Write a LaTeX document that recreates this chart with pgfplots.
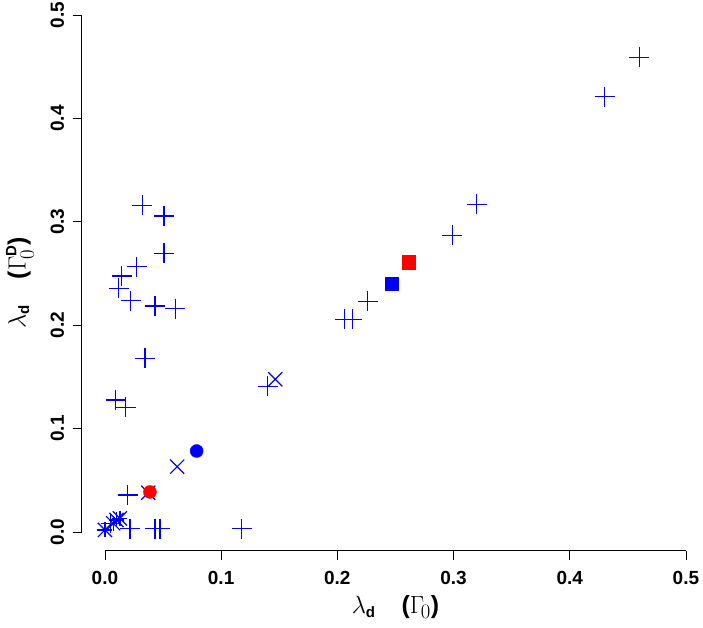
\documentclass[border=0pt]{standalone}
\usepackage{fontspec}
\setmainfont{Liberation Sans}
\usepackage{amsmath}
\usepackage{pgfplots}
\pgfplotsset{compat=1.18}
\newcommand{\sub}[1]{\text{\fontsize{15}{17}\selectfont\bfseries #1}}
\begin{document}
\begin{tikzpicture}
\begin{axis}[
  at={(0,0)}, anchor=south west, scale only axis,
  width=615.86pt, height=540.8pt,
  xmin=-0.02, xmax=0.51, ymin=-0.018, ymax=0.505,
  clip=false,
  axis x line*=bottom, axis y line*=left,
  axis line style={draw=none},
  tick align=outside, major tick length=9pt,
  tick style={black, line width=0.8pt},
  xtick={0,0.1,0.2,0.3,0.4,0.5},
  xticklabels={0.0,0.1,0.2,0.3,0.4,0.5},
  ytick={0,0.1,0.2,0.3,0.4,0.5},
  yticklabels={0.0,0.1,0.2,0.3,0.4,0.5},
  /pgf/number format/assume math mode=true,
  ticklabel style={font=\bfseries\fontsize{19}{22}\selectfont},
  yticklabel style={rotate=90, anchor=south, yshift=5pt},
  xticklabel style={anchor=north, yshift=-8pt},
  xlabel={$\lambda_{\sub{d}}$\hspace{26pt}\textbf{(}$\Gamma_{\!0}$\textbf{)}},
  ylabel={$\lambda_{\sub{d}}$\hspace{26pt}\textbf{(}$\Gamma^{\sub{D}}_{\!0}$\textbf{)}},
  label style={font=\fontsize{24.88}{30}\selectfont},
  xlabel style={at={(axis description cs:0.5094,0)}, anchor=center, yshift=-56.4pt},
  ylabel style={at={(axis description cs:0,0.495)}, anchor=center, yshift=61.7pt},
]
\draw[line width=0.8pt] (axis cs:0,-0.018) -- (axis cs:0.5,-0.018);
\draw[line width=0.8pt] (axis cs:-0.02,0) -- (axis cs:-0.02,0.5);
% plus markers
\addplot[only marks, mark=+, mark size=10pt, blue, mark options={line width=1.2pt}] coordinates {
(0.460,0.459) (0.430,0.421) (0.320,0.317) (0.299,0.287) (0.226,0.223)
(0.2065,0.2057) (0.213,0.2057) (0.140,0.141)
(0.0321,0.316) (0.0508,0.3056) (0.0508,0.2695) (0.0273,0.2566) (0.0144,0.2476)
(0.012,0.2357) (0.0221,0.2237) (0.043,0.2186) (0.0605,0.216) (0.0344,0.168)
(0.0092,0.1277) (0.018,0.1206)
(0.0195,0.0358) (0.0215,0.003) (0.0049,0.0084) (0.043,0.003) (0.0473,0.003)
(0.1176,0.003)
};
% x markers
\addplot[only marks, mark=x, mark size=10pt, blue, mark options={line width=1.2pt}] coordinates {
(0.1466,0.1477) (0.0622,0.0632) (0.0373,0.038)
};
% asterisks (+ and x)
\addplot[only marks, mark=+, mark size=7.5pt, blue, mark options={line width=1.2pt}] coordinates {
(0.0,0.002) (0.010,0.0116) (0.0129,0.0132) (0.0071,0.0084)
};
\addplot[only marks, mark=x, mark size=10pt, blue, mark options={line width=1.2pt}] coordinates {
(0.0,0.002) (0.010,0.0116) (0.0129,0.0132) (0.0071,0.0084)
};
% filled circles
\addplot[only marks, mark=*, mark size=6.5pt, blue, mark options={draw=blue, fill=blue}] coordinates {(0.0789,0.0783)};
\addplot[only marks, mark=*, mark size=6.5pt, red, mark options={draw=red, fill=red}] coordinates {(0.0387,0.0387)};
% filled squares
\addplot[only marks, mark=square*, mark size=6.7pt, blue, mark options={draw=blue, fill=blue}] coordinates {(0.247,0.240)};
\addplot[only marks, mark=square*, mark size=6.7pt, red, mark options={draw=red, fill=red}] coordinates {(0.2614,0.2608)};
\end{axis}
\pgfresetboundingbox
\path[use as bounding box] (-81.7pt,-77.4pt) rectangle (621.3pt,550.6pt);
\end{tikzpicture}
\end{document}
